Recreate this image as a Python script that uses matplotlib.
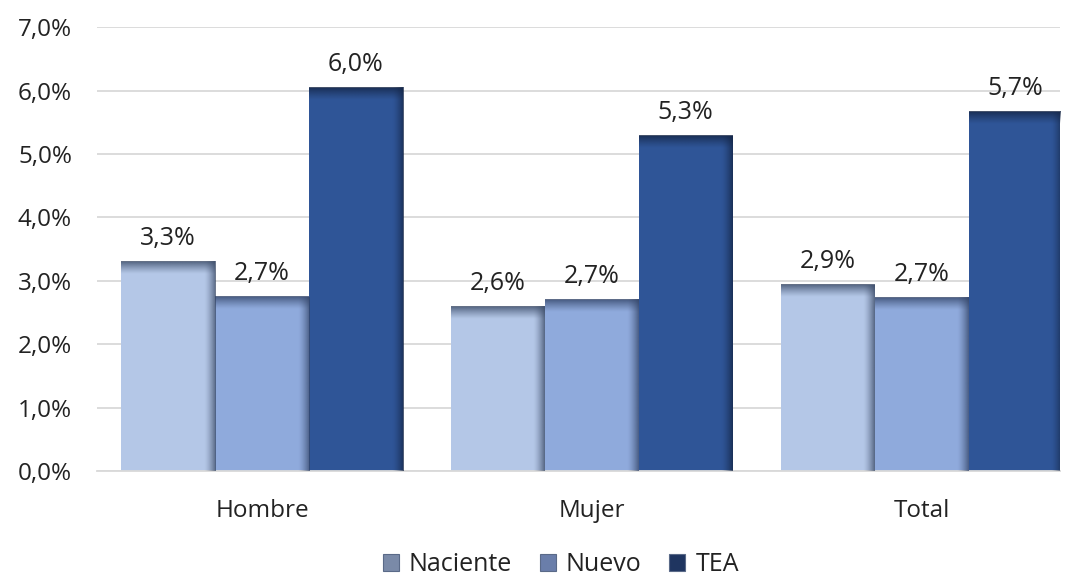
import numpy as np
import matplotlib
matplotlib.use("Agg")
import matplotlib.pyplot as plt
from matplotlib.colors import to_rgb
from matplotlib.patches import Patch

plt.rcParams['font.family'] = ['Open Sans', 'DejaVu Sans']

categories = ["Hombre", "Mujer", "Total"]
series = ["Naciente", "Nuevo", "TEA"]
naciente = [3.30, 2.59, 2.93]
nuevo = [2.74, 2.70, 2.73]
tea = [6.04, 5.28, 5.66]
colors = ["#B4C7E7", "#8FAADC", "#2F5597"]
yticks = [0, 1, 2, 3, 4, 5, 6, 7]


def fmt(v):
    return f"{v:.1f}%".replace(".", ",")


def bevel(ax, bar, shade):
    """Dark gradient on top and right edge of a bar, like Excel's bevel."""
    x0, w, h = bar.get_x(), bar.get_width(), bar.get_height()
    r, g, b = to_rgb(shade)
    n = 64
    # right edge: horizontal fade
    grad = np.zeros((1, n, 4))
    grad[..., 0], grad[..., 1], grad[..., 2] = r, g, b
    grad[0, :, 3] = np.linspace(0, 0.85, n) ** 1.5
    ew = w * 0.12
    ax.imshow(grad, extent=(x0 + w - ew, x0 + w, 0, h), aspect="auto",
              interpolation="bilinear", zorder=3)
    # top edge: vertical fade
    grad = np.zeros((n, 1, 4))
    grad[..., 0], grad[..., 1], grad[..., 2] = r, g, b
    grad[:, 0, 3] = np.linspace(0.85, 0, n) ** 1.2
    eh = 0.19
    ax.imshow(grad, extent=(x0, x0 + w, h - eh, h), aspect="auto",
              interpolation="bilinear", zorder=3)


fig = plt.figure(figsize=(10.7, 5.78), dpi=100)
ax = fig.add_axes([0.0907, 0.185, 0.9, 0.768])

x = np.arange(len(categories))
width = 0.285
shades = ["#3A4A66", "#34466A", "#142545"]
for i, (vals, col, sh) in enumerate(zip([naciente, nuevo, tea], colors, shades)):
    bars = ax.bar(x + (i - 1) * width, vals, width, color=col, zorder=2,
                  label=series[i])
    for bar, v in zip(bars, vals):
        bevel(ax, bar, sh)
        ax.annotate(fmt(v), (bar.get_x() + bar.get_width() / 2, v),
                    xytext=(0, 8), textcoords="offset points",
                    ha="center", va="bottom", fontsize=18, color="#222222")

ax.set_xlim(-0.5, 2.42)
ax.set_ylim(0, 7)
ax.set_yticks(yticks)
ax.set_yticklabels([fmt(t) for t in yticks])
ax.set_xticks(x)
ax.set_xticklabels(categories)
ax.tick_params(axis="y", length=0, pad=18, labelsize=17.5, labelcolor="#222222")
ax.tick_params(axis="x", length=0, pad=20, labelsize=17.5, labelcolor="#222222")
ax.yaxis.grid(True, color="#D9D9D9", linewidth=1.3, zorder=0)
ax.set_axisbelow(True)
for s in ["top", "right", "left"]:
    ax.spines[s].set_visible(False)
ax.spines["bottom"].set_color("#D9D9D9")
ax.spines["bottom"].set_linewidth(1.3)

handles = [Patch(facecolor=c, edgecolor="#5A6A88", linewidth=0.8) for c in ["#7A8AA8", "#6A7EAA", "#1F3560"]]
fig.legend(handles, series, loc="lower center", bbox_to_anchor=(0.524, -0.038),
           ncol=3, frameon=False, fontsize=18, handlelength=0.65, handleheight=0.65,
           handletextpad=0.4, columnspacing=1.1, labelcolor="#222222")

fig.savefig("out.png", dpi=100)
